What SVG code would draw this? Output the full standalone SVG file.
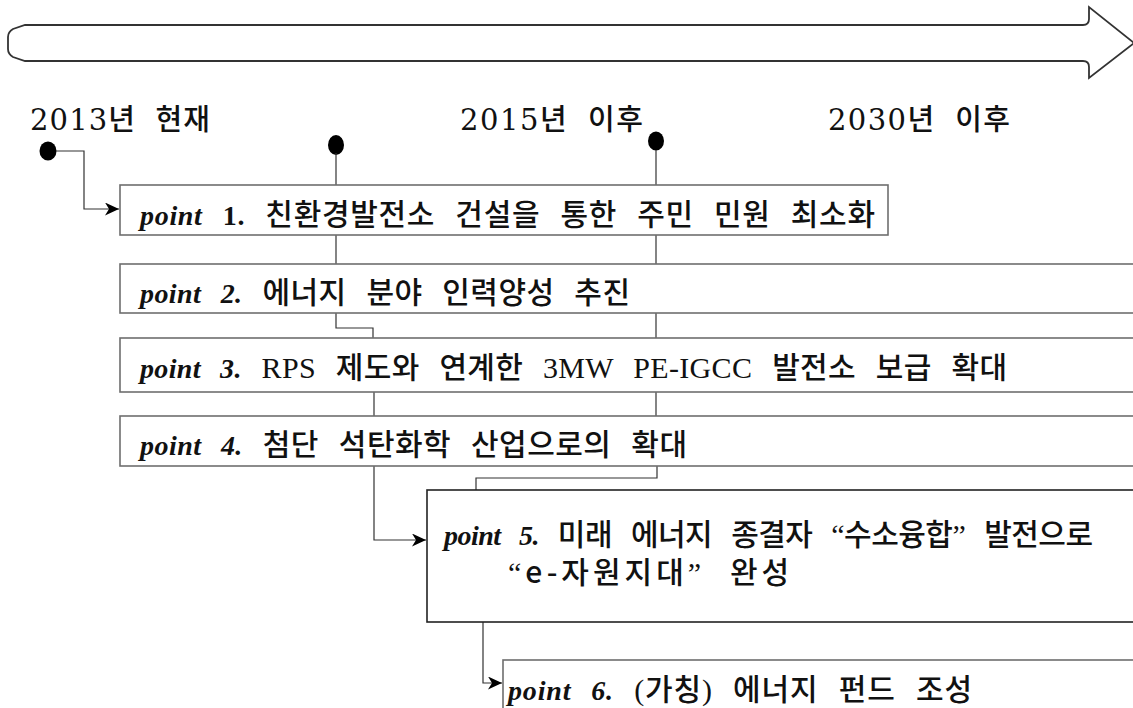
<svg xmlns="http://www.w3.org/2000/svg" width="1133" height="708" viewBox="0 0 1133 708">
<style>
.box{fill:#fff;stroke:#6e6e6e;stroke-width:1.6}
.con{fill:none;stroke:#333;stroke-width:1.2}
.dot{fill:#000}
.big{fill:#fff;stroke:#333;stroke-width:1.8}
.t{font-family:"Liberation Serif","Noto Sans CJK KR",serif;font-size:30px;font-weight:500;word-spacing:12px;fill:#111}
.lbl{font-family:"DejaVu Serif","Noto Sans CJK KR",serif;font-size:29px;font-weight:500;word-spacing:9px;fill:#111}
.p{font-style:italic;font-weight:bold;font-size:28px}
.b{font-weight:bold;font-size:28px}
.ks{font-family:"Noto Sans CJK KR",sans-serif}
</style>
<defs>
<marker id="ah" markerUnits="userSpaceOnUse" markerWidth="15" markerHeight="13" refX="14" refY="6.5" orient="auto">
<path d="M0,0 L14,6.5 L0,13 L4,6.5 Z" fill="#000"/>
</marker>
</defs>
<rect width="1133" height="708" fill="#fff"/>
<g id="timeline">
<path class="big" d="M25,25 H1083 Q1089,25 1089,19 V7 L1134,43 L1089,78 V67 Q1089,61 1083,61 H25 L13,57 Q8,54 8,49 V37 Q8,32 13,29 Z"/>
</g>
<g id="labels">
<text class="lbl" x="30" y="130" textLength="180" lengthAdjust="spacing">2013년 현재</text>
<text class="lbl" x="460" y="130" textLength="183" lengthAdjust="spacing">2015년 이후</text>
<text class="lbl" x="828" y="130" textLength="182" lengthAdjust="spacing">2030년 이후</text>
</g>
<g id="dots">
<ellipse class="dot" cx="48" cy="151" rx="8.5" ry="9.5"/>
<ellipse class="dot" cx="336" cy="145" rx="8" ry="10"/>
<ellipse class="dot" cx="656" cy="141" rx="8" ry="9.5"/>
</g>
<g id="connectors">
<path class="con" d="M56,151 H84 V209 H119" marker-end="url(#ah)"/>
<path class="con" d="M336,153 V185"/>
<path class="con" d="M656,150 V185"/>
<path class="con" d="M336,235 V264"/>
<path class="con" d="M656,235 V264"/>
<path class="con" d="M336,313 V328 H373 V338"/>
<path class="con" d="M656,313 V338"/>
<path class="con" d="M374,392 V416"/>
<path class="con" d="M656,392 V416"/>
<path class="con" d="M374,466 V540 H426" marker-end="url(#ah)"/>
<path class="con" d="M657,466 V478 H476 V490"/>
<path class="con" d="M483,622 V683 H502" marker-end="url(#ah)"/>
</g>
<g id="point1">
<rect class="box" x="120" y="185" width="768" height="50"/>
<text class="t" x="140" y="225" textLength="735" lengthAdjust="spacing"><tspan class="p">point</tspan> <tspan class="b">1.</tspan> 친환경발전소 건설을 통한 주민 민원 최소화</text>
</g>
<g id="point2">
<rect class="box" x="120" y="264" width="1030" height="49"/>
<text class="t" x="140" y="303" textLength="490" lengthAdjust="spacing"><tspan class="p">point 2.</tspan> 에너지 분야 인력양성 추진</text>
</g>
<g id="point3">
<rect class="box" x="120" y="338" width="1030" height="54"/>
<text class="t" x="140" y="378" textLength="867" lengthAdjust="spacing"><tspan class="p">point 3.</tspan> RPS 제도와 연계한 3MW PE-IGCC 발전소 보급 확대</text>
</g>
<g id="point4">
<rect class="box" x="120" y="416" width="1030" height="50"/>
<text class="t" x="140" y="455" textLength="547" lengthAdjust="spacing"><tspan class="p">point 4.</tspan> 첨단 석탄화학 산업으로의 확대</text>
</g>
<g id="point5">
<rect class="box" x="427" y="490" width="720" height="132" style="stroke:#222"/>
<text class="t" x="444" y="545" textLength="649" lengthAdjust="spacing"><tspan class="p">point 5.</tspan> 미래 에너지 종결자 “수소융합” 발전으로</text>
<text class="t" x="508" y="583" style="letter-spacing:4px">“<tspan class="ks">e-</tspan>자원지대” <tspan x="730">완성</tspan></text>
</g>
<g id="point6">
<rect class="box" x="503" y="660" width="640" height="60"/>
<text class="t" x="508" y="700" textLength="464" lengthAdjust="spacing"><tspan class="p">point 6.</tspan> (가칭) 에너지 펀드 조성</text>
</g>
</svg>
